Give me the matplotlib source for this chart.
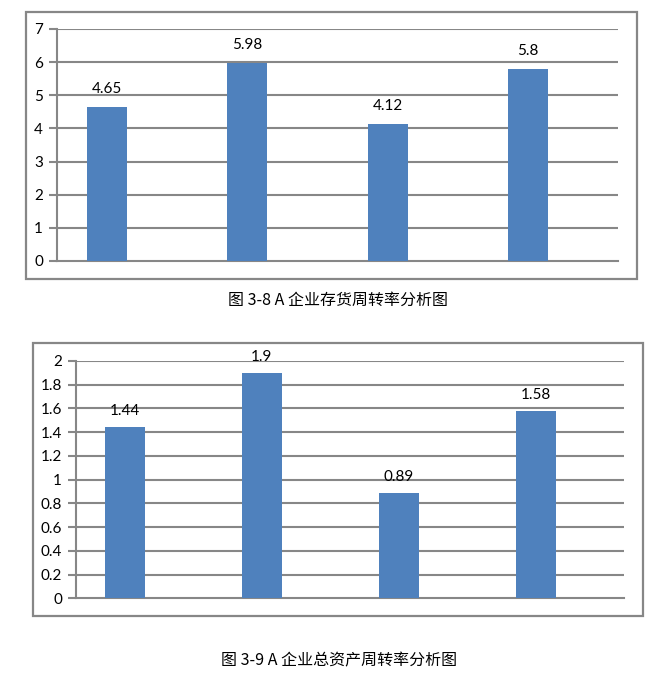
import matplotlib
matplotlib.use("Agg")
import matplotlib.pyplot as plt
from matplotlib.patches import Rectangle
import numpy as np

# Data
inv_values = [4.65, 5.98, 4.12, 5.8]
inv_ticks = [0, 1, 2, 3, 4, 5, 6, 7]
inv_labels = ["4.65", "5.98", "4.12", "5.8"]
inv_caption = "图 3-8 A 企业存货周转率分析图"

asset_values = [1.44, 1.9, 0.89, 1.58]
asset_ticks = [0, 0.2, 0.4, 0.6, 0.8, 1.0, 1.2, 1.4, 1.6, 1.8, 2.0]
asset_tick_labels = ["0", "0.2", "0.4", "0.6", "0.8", "1", "1.2", "1.4", "1.6", "1.8", "2"]
asset_labels = ["1.44", "1.9", "0.89", "1.58"]
asset_caption = "图 3-9 A 企业总资产周转率分析图"

W, H = 668, 684
fig = plt.figure(figsize=(W / 100, H / 100), dpi=100)
fig.patch.set_facecolor("white")

GRID = "#878787"
BAR = "#4F81BD"
NUMFONT = ["Lato", "DejaVu Sans"]
CAPFONT = ["Noto Sans CJK SC", "DejaVu Sans"]


def px_axes(left, top, right, bottom):
    return fig.add_axes([left / W, (H - bottom) / H, (right - left) / W, (bottom - top) / H])


def frame(left, top, right, bottom):
    fig.add_artist(Rectangle((left / W, (H - bottom) / H), (right - left) / W, (bottom - top) / H,
                             transform=fig.transFigure, fill=False, edgecolor=GRID, linewidth=1.6))


def draw(ax, values, ticks, tick_labels, labels, ymax, label_off):
    x = np.arange(len(values))
    ax.bar(x + 0.357, values, width=0.286, color=BAR, zorder=3)
    ax.set_xlim(0, len(values))
    ax.set_ylim(0, ymax)
    ax.set_yticks(ticks)
    ax.set_yticklabels(tick_labels, fontfamily=NUMFONT, fontsize=11)
    ax.set_xticks([])
    for y in ticks[1:]:
        ax.axhline(y, color=GRID, linewidth=1.5, zorder=1)
    for s in ["top", "right"]:
        ax.spines[s].set_visible(False)
    for s in ["left", "bottom"]:
        ax.spines[s].set_color(GRID)
        ax.spines[s].set_linewidth(1.5)
    ax.tick_params(axis="y", length=6, width=1.5, color=GRID, pad=4)
    for xi, v, lab in zip(x, values, labels):
        ax.annotate(lab, (xi + 0.357, v), xytext=(0, label_off), textcoords="offset pixels",
                    ha="center", va="center", fontfamily=NUMFONT, fontsize=11)


# Chart 1
frame(26, 12, 636.5, 279)
ax1 = px_axes(57, 29, 618, 261)
draw(ax1, inv_values, inv_ticks, [str(t) for t in inv_ticks], inv_labels, 7, 18)
fig.text(338 / W, (H - 300) / H, inv_caption, ha="center", va="center",
         fontfamily=CAPFONT, fontsize=11.5)

# Chart 2
frame(33, 342.7, 642.7, 615.7)
ax2 = px_axes(76, 361, 624, 598.3)
draw(ax2, asset_values, asset_ticks, asset_tick_labels, asset_labels, 2, 16)
fig.text(339 / W, (H - 661) / H, asset_caption, ha="center", va="center",
         fontfamily=CAPFONT, fontsize=11.5)

fig.savefig("out.png", dpi=100, facecolor="white")
